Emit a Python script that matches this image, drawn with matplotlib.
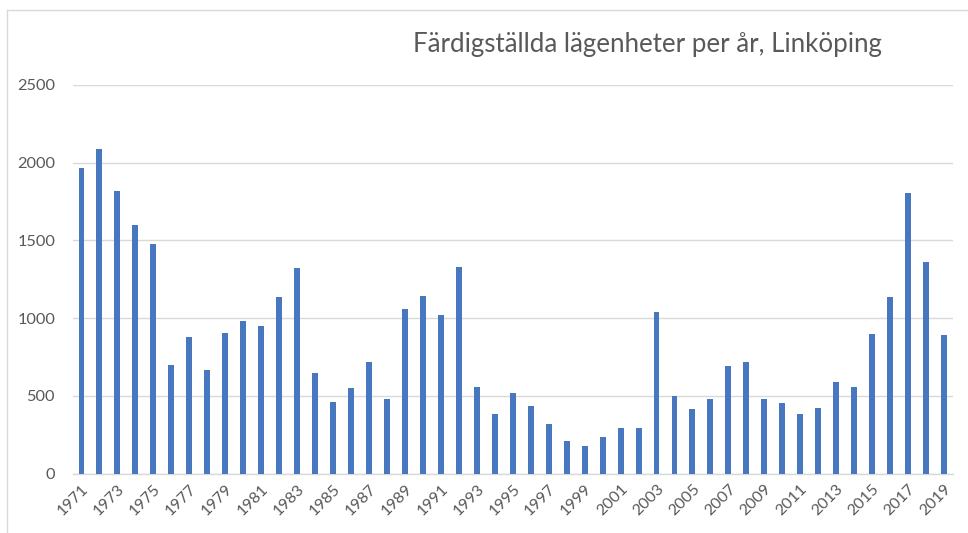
"""Färdigställda lägenheter per år, Linköping — bar chart."""

import matplotlib
matplotlib.use("Agg")
import matplotlib.pyplot as plt
from matplotlib.lines import Line2D

# Data
years = list(range(1971, 2020))
completed = [
    1965, 2090, 1818, 1602, 1476, 696, 880, 668, 901, 979,
    948, 1137, 1321, 646, 460, 550, 715, 481, 1056, 1143,
    1017, 1330, 558, 383, 520, 432, 316, 207, 179, 237,
    295, 295, 1038, 498, 413, 481, 693, 715, 479, 451,
    383, 421, 588, 558, 899, 1135, 1806, 1358, 891,
]
y_ticks = [0, 500, 1000, 1500, 2000, 2500]
title = "Färdigställda lägenheter per år, Linköping"

text_color = "#595959"
bar_color = "#4677BF"
grid_color = "#D9D9D9"

plt.rcParams["font.family"] = ["Lato", "DejaVu Sans"]

fig = plt.figure(figsize=(9.68, 5.33), dpi=100)
W, H = 968, 533
ax = fig.add_axes([72.5 / W, (H - 473.5) / H, (953 - 72.5) / W, (473.5 - 85) / H])

x = list(range(len(years)))
ax.bar(x, completed, width=0.33, color=bar_color, zorder=3)

ax.set_xlim(-0.5, len(years) - 0.5)
ax.set_ylim(0, 2500)
ax.set_yticks(y_ticks)
ax.set_yticklabels([str(v) for v in y_ticks], fontsize=11.8, color=text_color)
ax.tick_params(axis="y", length=0, pad=12.5)

ax.set_xticks(x[::2])
ax.set_xticklabels([str(y) for y in years[::2]], rotation=45, ha="right",
                   rotation_mode="anchor", fontsize=11.5, color=text_color)
ax.tick_params(axis="x", length=0, pad=6)

ax.grid(axis="y", color=grid_color, linewidth=1, zorder=0)
for side in ["top", "right", "left"]:
    ax.spines[side].set_visible(False)
ax.spines["bottom"].set_color(grid_color)
ax.spines["bottom"].set_linewidth(1)

fig.text(647.5 / W, 1 - 45 / H, title, ha="center", va="center",
         fontsize=18.6, color=text_color)

# light frame of the chart area (left and top edges)
fig.add_artist(Line2D([6.5 / W, 6.5 / W], [0, 1 - 10 / H], color=grid_color, linewidth=1))
fig.add_artist(Line2D([6.5 / W, 1], [1 - 10 / H, 1 - 10 / H], color=grid_color, linewidth=1))

fig.savefig("out.png", dpi=100)
